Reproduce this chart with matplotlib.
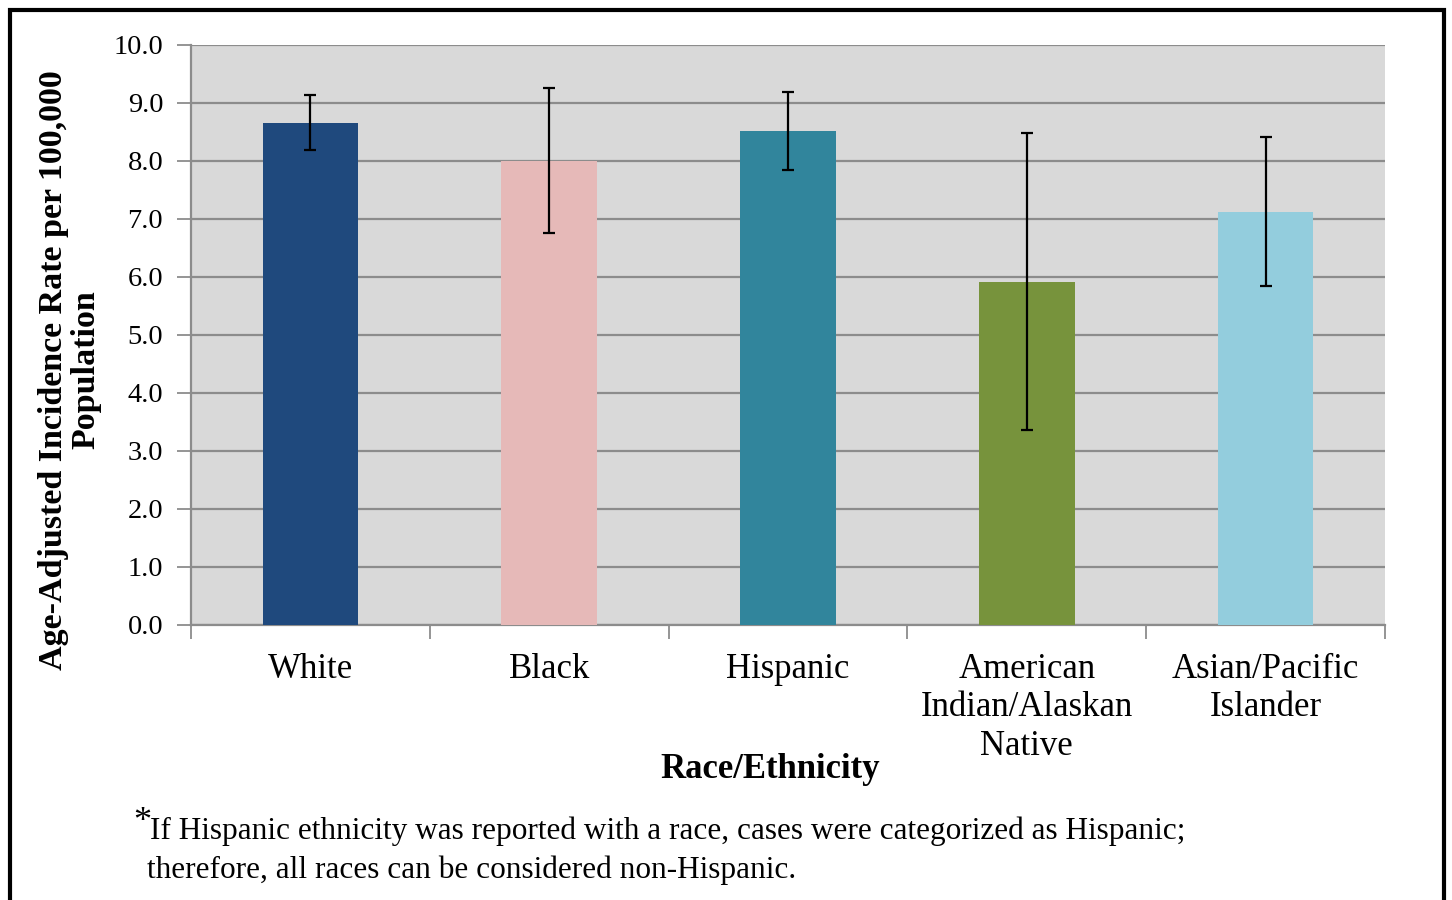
import matplotlib
matplotlib.use("Agg")
import matplotlib.pyplot as plt
from matplotlib.patches import Rectangle
import numpy as np

categories = ["White", "Black", "Hispanic", "American\nIndian/Alaskan\nNative", "Asian/Pacific\nIslander"]
rates = [8.66, 8.00, 8.52, 5.91, 7.12]
ci_low = [8.19, 6.76, 7.84, 3.36, 5.84]
ci_high = [9.14, 9.26, 9.19, 8.48, 8.41]
colors = ["#1F497D", "#E6B9B8", "#31859C", "#77933C", "#93CDDD"]
yticks = [0, 1, 2, 3, 4, 5, 6, 7, 8, 9, 10]
ytick_labels = ["0.0", "1.0", "2.0", "3.0", "4.0", "5.0", "6.0", "7.0", "8.0", "9.0", "10.0"]

plt.rcParams['font.family'] = ['Liberation Serif', 'DejaVu Serif']

fig = plt.figure(figsize=(14.52, 9.0), dpi=100)
ax = fig.add_axes([191/1452, 1-625/900, (1385-191)/1452, (625-45)/900])
ax.set_facecolor("#D9D9D9")

x = np.arange(len(categories))
rates_a = np.array(rates)
yerr = np.array([rates_a - np.array(ci_low), np.array(ci_high) - rates_a])
ax.bar(x, rates, width=0.40, color=colors, zorder=3)
ax.errorbar(x, rates, yerr=yerr, fmt='none', ecolor='black', elinewidth=1.6,
            capsize=4.5, capthick=1.6, zorder=4)

ax.set_xlim(-0.5, len(categories) - 0.5)
ax.set_ylim(0, 10)
ax.set_yticks(yticks)
ax.set_yticklabels(ytick_labels, fontsize=20.5)
ax.yaxis.grid(True, color="#8C8C8C", linewidth=1.6, zorder=1)
ax.set_axisbelow(True)

ax.set_xticks(np.arange(-0.5, len(categories), 1.0))
ax.set_xticklabels([])
ax.set_xticks(x, minor=True)
ax.set_xticklabels(categories, minor=True, fontsize=25, linespacing=1.22)
ax.tick_params(axis='x', which='minor', length=0, pad=20)
ax.tick_params(axis='x', which='major', length=10, width=1.3, color="#8C8C8C", direction='out')
ax.tick_params(axis='y', length=10, width=1.3, color="#8C8C8C", direction='out', pad=10)

for s in ['top', 'right']:
    ax.spines[s].set_visible(False)
for s in ['left', 'bottom']:
    ax.spines[s].set_color("#8C8C8C")
    ax.spines[s].set_linewidth(1.6)

fig.text(70/1452, 1-370/900, "Age-Adjusted Incidence Rate per 100,000\nPopulation",
         rotation=90, ha='center', va='center', fontsize=24.5, fontweight='bold',
         linespacing=1.05)
fig.text(770/1452, 1-770/900, "Race/Ethnicity", ha='center', va='center',
         fontsize=25, fontweight='bold')

fig.text(133/1452, 1-822/900, "*", ha='left', va='center', fontsize=26)
fig.text(150/1452, 1-831/900,
         "If Hispanic ethnicity was reported with a race, cases were categorized as Hispanic;",
         ha='left', va='center', fontsize=22.5)
fig.text(147/1452, 1-870/900, "therefore, all races can be considered non-Hispanic.",
         ha='left', va='center', fontsize=22.5)

frame = Rectangle((10/1452, -0.1), (1444-10)/1452, 1.1 - 10/900,
                  transform=fig.transFigure, fill=False, edgecolor='black',
                  linewidth=3, zorder=10)
fig.patches.append(frame)

fig.savefig("out.png", dpi=100, facecolor='white')
